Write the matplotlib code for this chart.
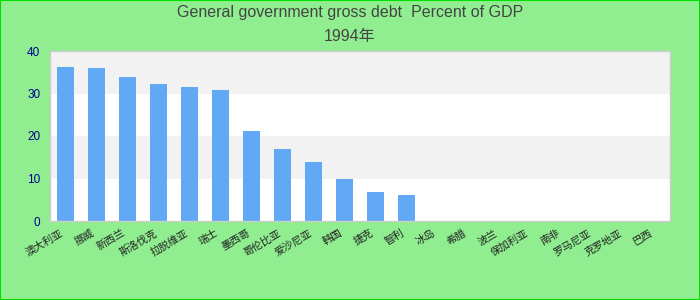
import matplotlib
matplotlib.use("Agg")
import numpy as np
from matplotlib import pyplot as plt
from matplotlib.patches import Rectangle

plt.rcParams['font.family'] = ['Liberation Sans', 'Noto Sans CJK SC', 'DejaVu Sans']

countries = ['澳大利亚', '挪威', '新西兰', '斯洛伐克', '拉脱维亚', '瑞士', '墨西哥',
             '哥伦比亚', '爱沙尼亚', '韩国', '捷克', '智利',
             '冰岛', '希腊', '波兰', '保加利亚', '南非', '罗马尼亚', '克罗地亚', '巴西']
debt = [36.2, 36.0, 33.8, 32.2, 31.5, 30.8, 21.1, 17.0, 14.0, 9.9, 6.9, 6.2,
        0, 0, 0, 0, 0, 0, 0, 0]
y_ticks = [0, 10, 20, 30, 40]

fig = plt.figure(figsize=(7, 3), dpi=100, facecolor='#90ee90')
ax = fig.add_axes([50 / 700, 1 - 221 / 300, 620 / 700, 170 / 300])

# alternating bands
for i in range(len(y_ticks) - 1):
    c = '#f2f2f2' if i % 2 == 1 else 'white'
    ax.axhspan(y_ticks[i], y_ticks[i + 1], color=c, zorder=0, lw=0)

x = np.arange(len(countries))
ax.bar(x, debt, width=0.55, color='#61a9f5', zorder=2)

ax.set_xlim(-0.5, len(countries) - 0.5)
ax.set_ylim(0, 40)
ax.set_yticks(y_ticks)
ax.set_xticks(x)
ax.set_xticklabels(countries, rotation=30, ha='right', fontsize=7.5, color='#222222',
                   family=['Noto Sans CJK SC', 'DejaVu Sans'])
ax.tick_params(axis='y', length=0, labelsize=8.5, labelcolor='#00008b', pad=7)
ax.tick_params(axis='x', length=0, pad=5)
for s in ax.spines.values():
    s.set_color('#cccccc')
    s.set_linewidth(1)

fig.text(0.5, 1 - 13 / 300, 'General government gross debt  Percent of GDP',
         ha='center', va='center', fontsize=11.5, color='#444444')
fig.text(0.5, 1 - 37 / 300, '1994年', ha='center', va='center', fontsize=11.5,
         color='#444444', family=['Liberation Sans', 'Noto Sans CJK SC'])

# outer border
fig.patches.append(Rectangle((0, 0), 1, 1, transform=fig.transFigure, fill=False,
                             edgecolor='#00e000', lw=1.5))

fig.savefig('out.png', dpi=100, facecolor=fig.get_facecolor())
